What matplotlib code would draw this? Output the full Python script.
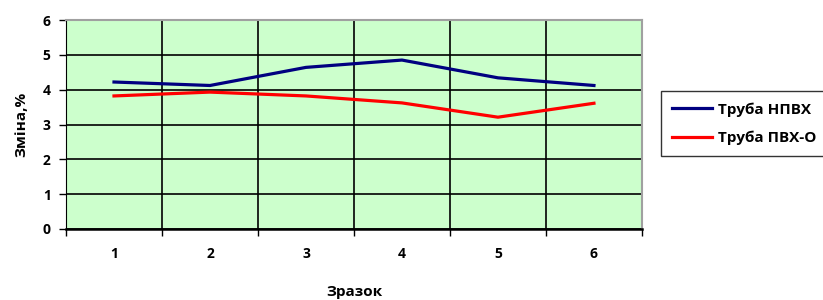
import matplotlib.pyplot as plt
import numpy as np

# data
samples = ['1', '2', '3', '4', '5', '6']
npvh = [4.22, 4.12, 4.64, 4.85, 4.34, 4.12]
pvh_o = [3.82, 3.93, 3.82, 3.62, 3.21, 3.61]
series_names = ['Труба НПВХ', 'Труба ПВХ-О']

plt.rcParams['font.family'] = ['Open Sans', 'DejaVu Sans']
plt.rcParams['font.weight'] = 'bold'

fig = plt.figure(figsize=(8.23, 3.0), dpi=100)
ax = fig.add_axes([0.0802, 0.2367, 0.6998, 0.6966])
ax.set_facecolor('#ccffcc')

x = np.arange(len(samples))
ax.plot(x, npvh, color='#000080', lw=2.3, label=series_names[0], zorder=3)
ax.plot(x, pvh_o, color='#ff0000', lw=2.3, label=series_names[1], zorder=3)

ax.set_xlim(-0.5, len(samples) - 0.5)
ax.set_ylim(0, 6)

# category boundaries carry ticks + grid, labels sit at centres
ax.set_xticks(np.arange(-0.5, len(samples), 1.0))
ax.set_xticklabels([])
ax.set_xticks(x, minor=True)
ax.set_xticklabels(samples, minor=True, fontsize=10, fontweight='bold')
ax.tick_params(axis='x', which='minor', length=0, pad=13)
ax.tick_params(axis='x', which='major', length=5, width=1, direction='out')

ax.set_yticks(range(0, 7))
ax.set_yticklabels([str(v) for v in range(0, 7)], fontsize=10, fontweight='bold')
ax.tick_params(axis='y', length=5, width=1, direction='out', pad=6)

ax.grid(True, which='major', color='black', lw=1.2, zorder=1)
ax.set_axisbelow(True)

ax.spines['left'].set_color('black')
ax.spines['bottom'].set_color('black')
ax.spines['bottom'].set_linewidth(1.8)
ax.spines['top'].set_color('#a0a0a0')
ax.spines['right'].set_color('#a0a0a0')
ax.spines['top'].set_linewidth(1.5)
ax.spines['right'].set_linewidth(1.5)

ax.set_xlabel('Зразок', fontsize=11, fontweight='bold', labelpad=17)
ax.set_ylabel('Зміна,%', fontsize=11, fontweight='bold', labelpad=10)

leg = fig.legend(loc='upper left', bbox_to_anchor=(0.803, 0.697),
                 borderaxespad=0, frameon=True, fancybox=False,
                 edgecolor='black', fontsize=11, handlelength=2.6,
                 borderpad=0.75, labelspacing=0.9, handletextpad=0.4)
leg.get_frame().set_linewidth(1.0)
for t in leg.get_texts():
    t.set_fontweight('bold')

fig.savefig('out.png', dpi=100)
